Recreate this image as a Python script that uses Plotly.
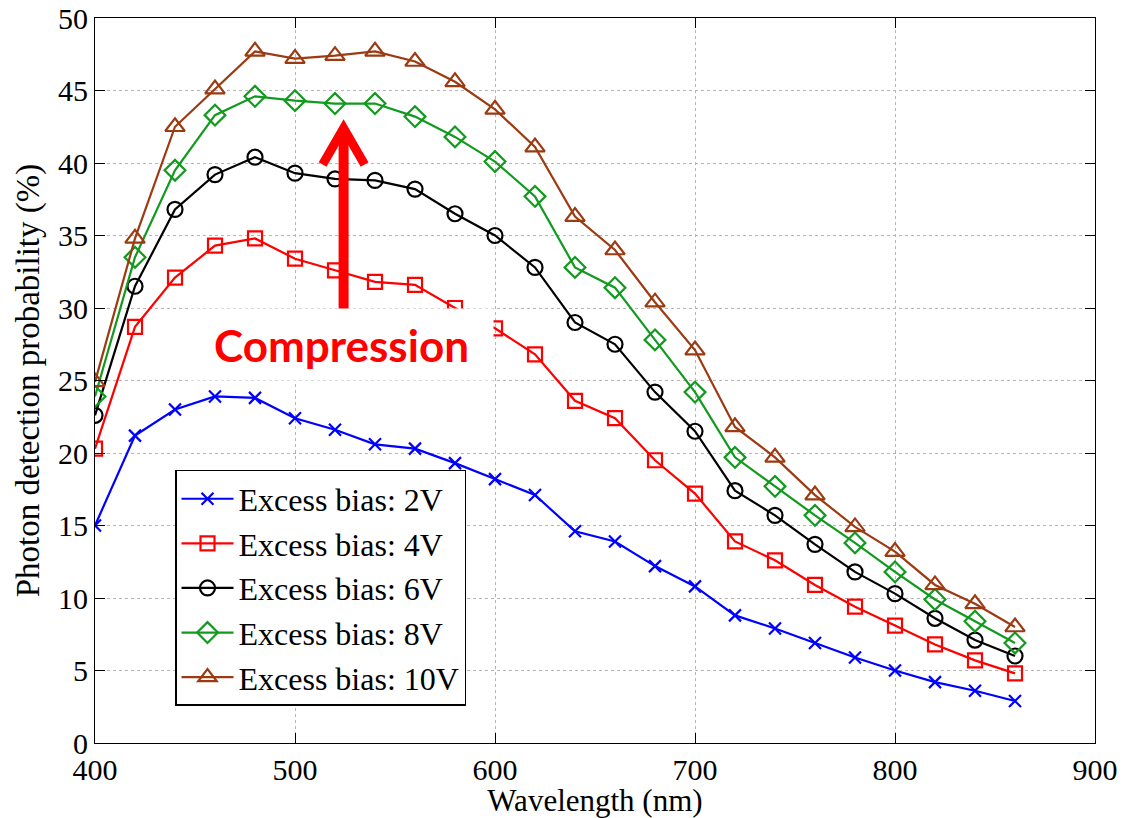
import plotly.graph_objects as go

wavelength = [400, 420, 440, 460, 480, 500, 520, 540, 560, 580, 600, 620,
              640, 660, 680, 700, 720, 740, 760, 780, 800, 820, 840, 860]

bias_2v = [15.0, 21.2, 23.0, 23.9, 23.8, 22.4, 21.6, 20.6, 20.3, 19.3, 18.2, 17.1,
           14.6, 13.9, 12.2, 10.8, 8.8, 7.9, 6.9, 5.9, 5.0, 4.2, 3.6, 2.9]
bias_4v = [20.3, 28.7, 32.1, 34.3, 34.8, 33.4, 32.6, 31.8, 31.6, 30.0, 28.6, 26.8,
           23.6, 22.4, 19.5, 17.2, 13.9, 12.6, 10.9, 9.4, 8.1, 6.8, 5.7, 4.8]
bias_6v = [22.6, 31.5, 36.8, 39.2, 40.4, 39.3, 38.9, 38.8, 38.2, 36.5, 35.0, 32.8,
           29.0, 27.5, 24.2, 21.5, 17.4, 15.7, 13.7, 11.8, 10.3, 8.6, 7.1, 6.0]
bias_8v = [23.9, 33.5, 39.5, 43.3, 44.6, 44.3, 44.1, 44.1, 43.2, 41.8, 40.1, 37.7,
           32.8, 31.4, 27.8, 24.2, 19.7, 17.7, 15.7, 13.8, 11.8, 9.9, 8.4, 6.9]
bias_10v = [24.9, 34.8, 42.5, 45.1, 47.7, 47.2, 47.4, 47.7, 47.0, 45.6, 43.7, 41.1,
            36.3, 34.0, 30.4, 27.1, 21.8, 19.7, 17.1, 14.9, 13.2, 10.9, 9.6, 8.0]

series_names = ["Excess bias: 2V", "Excess bias: 4V", "Excess bias: 6V",
                "Excess bias: 8V", "Excess bias: 10V"]
series_values = [bias_2v, bias_4v, bias_6v, bias_8v, bias_10v]
series_colors = ["#0000ff", "#ff0000", "#000000", "#119a1e", "#9c3a12"]
series_symbols = ["x-thin-open", "square-open", "circle-open", "diamond-open", "triangle-up-open"]
series_sizes = [12, 14, 15, 16, 17]

x_ticks = [400, 500, 600, 700, 800, 900]
y_ticks = [0, 5, 10, 15, 20, 25, 30, 35, 40, 45, 50]

annot_text = "Compression"
annot_x = 523.3
annot_y = 27.5
arrow_x = 524.3
arrow_base = 29.0
arrow_tip = 42.4
arrow_wing_y = 39.9
arrow_wing_dx = 10.5

SERIF = "Liberation Serif, Times New Roman, serif"

fig = go.Figure()
for name, vals, col, sym, sz in zip(series_names, series_values, series_colors,
                                    series_symbols, series_sizes):
    fig.add_trace(go.Scatter(
        x=wavelength, y=vals, name=name, mode="lines+markers",
        line=dict(color=col, width=2.2),
        marker=dict(symbol=sym, size=sz, color=col, line=dict(color=col, width=2.2)),
    ))

red = "#ff0000"
# arrow shaft and head
fig.add_shape(type="line", xref="x", yref="y", x0=arrow_x, x1=arrow_x,
              y0=arrow_base, y1=arrow_tip - 0.2, line=dict(color=red, width=10), layer="above")
fig.add_shape(type="path", xref="x", yref="y",
              path=f"M {arrow_x - arrow_wing_dx},{arrow_wing_y} L {arrow_x},{arrow_tip} L {arrow_x + arrow_wing_dx},{arrow_wing_y}",
              line=dict(color=red, width=9), layer="above")

fig.add_annotation(x=annot_x, y=annot_y, xref="x", yref="y", text=annot_text,
                   showarrow=False, bgcolor="white", width=303, height=71,
                   borderpad=0, align="center", valign="middle",
                   font=dict(family="Lato, Open Sans, sans-serif", size=44, color=red,
                             weight="bold"))

axis_common = dict(
    showline=True, linecolor="black", linewidth=1.2, mirror="ticks",
    ticks="inside", ticklen=10, tickwidth=1, tickcolor="black",
    showgrid=True, gridcolor="#b5b5b5", gridwidth=1, griddash="dot",
    zeroline=False, tickfont=dict(family=SERIF, size=30, color="black"),
)

fig.update_xaxes(range=[400, 900], tickvals=x_ticks, ticktext=[str(v) for v in x_ticks],
                 title=dict(text="Wavelength (nm)", font=dict(family=SERIF, size=31, color="black"),
                            standoff=3),
                 **axis_common)
fig.update_yaxes(range=[0, 50], tickvals=y_ticks, ticktext=[str(v) for v in y_ticks],
                 title=dict(text="Photon detection probability (%)",
                            font=dict(family=SERIF, size=33, color="black"), standoff=8),
                 **axis_common)

fig.update_layout(
    width=1125, height=818,
    margin=dict(l=95, r=30, t=18, b=75, autoexpand=False),
    paper_bgcolor="white", plot_bgcolor="white",
    showlegend=True,
    legend=dict(x=0.08, y=0.3766, xanchor="left", yanchor="top",
                bgcolor="white", bordercolor="black", borderwidth=1.5,
                font=dict(family=SERIF, size=32, color="black"),
                itemwidth=52, tracegroupgap=0),
)

fig.write_html("out.html")
